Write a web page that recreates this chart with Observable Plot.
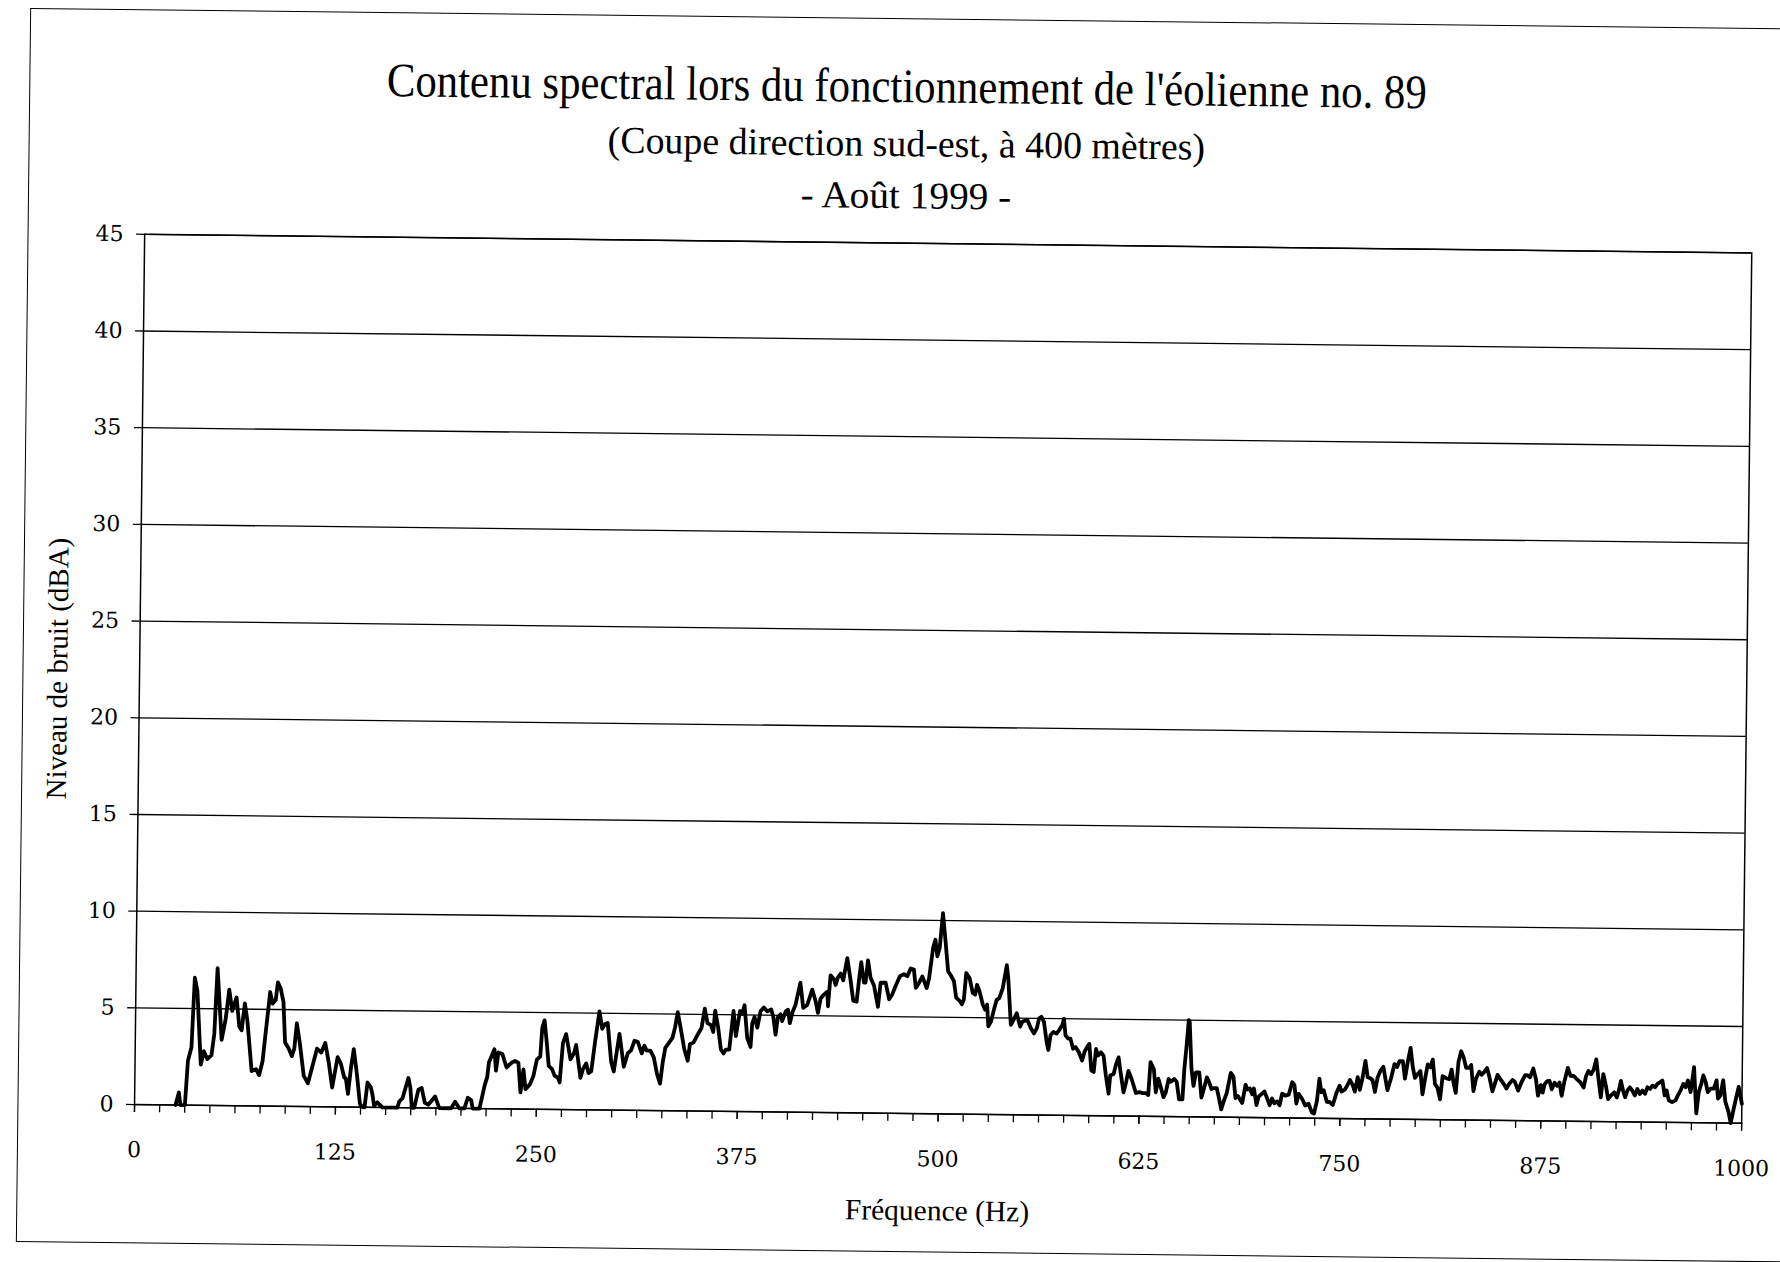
<!DOCTYPE html>
<html><head><meta charset="utf-8">
<script src="https://cdn.jsdelivr.net/npm/d3@7"></script>
<script src="https://cdn.jsdelivr.net/npm/@observablehq/plot@0.6"></script>
<style>
html,body{margin:0;padding:0;background:#fff;}
body{width:1780px;height:1262px;overflow:hidden;}
#page{position:relative;width:1780px;height:1262px;transform:rotate(0.665deg);transform-origin:890px 631px;font-family:"Liberation Serif",serif;color:#000;}
#border{position:absolute;left:23px;top:18px;width:1800px;height:1234px;border:1.5px solid #000;box-sizing:border-box;}
.hd{position:absolute;left:11px;width:1780px;text-align:center;line-height:1;white-space:nowrap;}
.hd span{display:inline-block;transform-origin:50% 50%;}
#chart{position:absolute;left:0;top:215px;}
</style></head>
<body>
<div id="page">
  <div id="border"></div>
  <div class="hd" id="t1" style="top:62px;font-size:48px"><span>Contenu spectral lors du fonctionnement de l'éolienne no. 89</span></div>
  <div class="hd" id="t2" style="top:124px;font-size:38px"><span>(Coupe direction sud-est, à 400 mètres)</span></div>
  <div class="hd" id="t3" style="top:176px;font-size:38px"><span>- Août 1999 -</span></div>
  <div id="chart"></div>
</div>
<script>
// ---- data (frequency in Hz, level in dBA) ----
const freqHz = [
  25.5,27.5,28.5,31.3,32.9,35.0,36.6,38.3,40.9,42.7,44.9,47.5,49.1,50.7,53.7,56.1,58.1,60.1,62.7,64.6,66.1,67.9,69.6,72.6,75.3,77.3,79.3,81.3,83.6,85.2,87.1,88.3,90.1,91.9,93.2,95.4,97.5,99.0,100.4,102.5,105.0,107.7,110.1,113.1,115.8,118.2,120.5,122.8,
  126.0,128.1,130.2,131.3,132.7,134.4,136.0,138.1,140.2,141.7,143.1,144.8,146.9,147.9,149.0,151.0,153.1,154.2,163.5,164.6,166.7,170.2,171.5,172.5,174.0,176.5,178.5,180.6,182.7,184.4,186.9,189.6,196.9,199.4,202.1,205.2,207.3,209.4,210.4,214.6,217.7,219.2,220.2,221.9,223.5,224.6,226.0,228.5,231.2,234.4,236.4,238.5,240.0,241.7,243.1,245.8,247.9,250.0,252.1,253.1,
  254.5,255.7,257.4,259.4,261.1,263.2,264.3,266.1,268.0,270.9,273.0,274.3,277.2,278.7,280.7,282.2,283.9,286.1,288.6,290.4,292.2,293.8,296.2,297.9,301.2,304.1,306.5,308.5,310.6,312.6,315.2,316.8,318.2,320.5,322.7,324.8,326.8,328.3,329.8,331.9,334.3,335.7,337.3,339.4,341.6,343.8,345.1,347.4,349.8,352.2,354.1,355.9,358.1,359.5,360.6,362.6,364.4,366.1,367.5,369.6,370.5,372.0,373.6,
  376.0,377.4,378.8,380.7,382.8,383.7,385.1,386.9,388.8,390.8,393.0,395.4,396.7,398.3,399.6,401.3,402.3,404.4,405.8,407.1,408.6,410.5,413.4,415.3,417.8,420.8,423.0,424.5,426.1,428.1,430.2,430.7,432.1,434.2,435.3,436.7,438.4,440.0,442.4,444.6,446.4,448.5,449.8,451.1,452.9,453.9,455.3,457.0,459.2,461.8,463.3,466.4,468.7,470.6,472.7,475.3,477.8,479.9,481.9,483.9,485.2,487.1,489.2,492.0,493.4,
  495.7,497.1,498.4,499.8,501.6,503.2,505.2,507.2,508.9,510.4,512.6,514.0,515.2,516.5,518.6,520.7,522.2,523.3,524.9,527.0,528.5,529.7,530.6,532.3,534.2,535.6,537.2,539.3,541.7,542.7,544.6,546.3,548.2,550.4,551.8,554.9,557.1,559.1,560.8,562.1,563.6,565.2,567.0,568.1,569.4,571.1,573.1,574.6,576.6,577.6,578.7,580.4,581.8,583.5,585.0,587.1,589.2,590.6,592.2,593.6,595.0,596.5,597.8,599.0,600.9,602.5,604.1,605.9,606.8,608.9,610.4,611.9,613.4,615.2,616.7,618.1,620.2,
  622.9,625.0,627.1,629.1,630.6,631.8,633.9,635.3,636.8,638.4,640.1,641.5,643.2,644.6,646.7,648.2,649.8,651.9,652.9,654.1,655.3,655.9,657.3,658.7,660.1,662.2,663.7,665.3,667.0,668.4,669.9,671.5,673.2,674.6,676.1,677.7,679.4,681.8,683.5,684.9,686.4,689.1,691.1,692.2,693.8,695.3,696.3,698.0,699.4,701.5,702.9,704.6,706.2,707.7,709.1,710.8,712.4,713.9,715.9,718.0,720.1,721.5,722.8,724.2,726.3,728.4,730.4,732.5,733.9,735.6,737.0,738.3,739.7,741.8,743.4,745.5,747.6,749.6,
  750.8,752.9,754.6,756.0,757.7,759.1,760.8,762.2,763.9,765.5,767.0,768.7,770.1,771.6,773.2,774.9,776.7,778.0,779.4,781.5,783.6,785.2,786.7,788.8,790.2,791.9,793.5,795.0,796.4,798.1,799.8,801.2,802.7,804.3,806.0,807.4,808.9,810.5,812.2,813.6,815.7,817.8,819.2,820.5,821.9,823.4,825.0,826.7,828.2,830.2,831.3,832.9,834.4,836.4,837.9,839.6,841.2,842.7,844.7,846.2,847.8,849.9,852.0,853.4,855.1,857.2,858.6,860.7,862.8,865.0,866.5,868.0,870.0,871.7,873.1,874.8,
  876.0,877.1,878.7,880.2,881.6,883.3,884.9,886.4,887.8,889.5,891.5,893.2,895.2,897.3,899.4,901.4,902.9,904.3,906.0,907.6,909.1,910.5,912.2,913.6,915.3,916.7,918.4,920.5,922.1,923.6,924.6,926.0,927.3,928.7,930.2,931.8,933.3,934.9,936.4,938.0,939.7,941.1,942.8,944.2,945.9,947.3,949.0,950.4,951.9,953.1,954.5,956.6,958.7,960.1,961.8,963.4,964.9,966.3,968.0,970.0,971.7,973.1,974.6,975.8,977.3,978.7,980.4,982.4,984.1,985.1,986.6,988.2,989.7,991.7,993.2,994.8,996.5,997.9,1000.0
];
const levelDb = [
  0,0.65,0,0,2.3,3.0,6.6,5.9,2.1,2.8,2.4,2.6,3.7,7.1,3.4,4.5,6.0,4.9,5.6,4.1,3.9,5.3,4.4,1.8,1.9,1.6,2.3,4.0,5.9,5.3,5.5,6.4,6.1,5.4,3.3,3.0,2.6,3.0,4.3,3.2,1.6,1.2,2.0,3.0,2.8,3.3,2.3,1.0,
  2.57,2.23,1.54,1.46,0.68,2.05,3.0,1.71,0.17,0,0,1.28,1.03,0.68,0.09,0.26,0.09,0,0,0.3,0.5,1.54,1.03,0,0,0.94,1.03,0.26,0.17,0.34,0.6,0,0,0.34,0,0,0.55,0.43,0,0,1.2,1.63,2.4,2.74,3.08,1.97,2.91,2.83,2.14,2.4,2.48,2.4,0.86,2.05,1.03,1.28,1.71,2.57,2.74,4.2,
  4.6,3.7,2.25,2.1,1.75,1.65,1.4,3.45,3.9,2.6,2.9,3.35,1.65,2.1,2.4,1.9,2.0,3.55,5.1,4.2,4.45,4.5,2.5,2.0,3.95,2.25,2.95,3.1,3.6,3.55,2.95,3.35,3.1,3.1,2.75,1.9,1.4,2.5,3.25,3.5,3.8,4.3,5.1,4.2,3.2,2.6,3.45,3.55,3.95,4.3,5.3,4.55,4.45,4.1,5.2,4.3,3.2,3.0,3.2,3.2,3.95,5.2,3.9,
  5.2,5.05,5.5,3.8,3.35,4.55,4.9,4.35,5.2,5.4,5.2,5.3,4.95,4.0,4.9,5.05,4.7,5.2,5.3,4.6,5.15,5.55,6.7,5.4,5.55,6.35,5.75,5.15,5.9,6.1,6.25,5.5,7.1,6.9,6.6,7.0,7.2,6.85,8.0,6.85,5.8,5.75,6.85,7.8,6.75,6.75,7.9,7.0,6.6,5.5,6.75,6.75,5.9,6.15,6.6,7.1,7.2,7.1,7.5,7.45,6.5,6.75,7.1,6.5,7.0,
  8.58,9.0,8.15,8.58,10.38,9.09,7.38,7.13,6.87,6.02,5.85,5.68,5.93,7.30,7.04,6.27,6.19,6.70,6.36,5.68,5.42,5.68,4.56,4.82,5.50,5.93,6.02,6.53,7.73,7.04,4.65,4.91,5.25,4.56,4.82,4.91,4.48,4.22,4.48,4.99,5.08,4.82,3.79,3.37,4.14,4.31,4.22,4.39,4.65,4.99,4.14,3.97,3.97,3.45,3.54,3.28,2.85,3.28,3.54,3.71,2.34,2.26,3.45,3.11,3.28,3.11,2.09,1.15,2.09,2.17,2.68,3.03,2.17,1.23,1.74,2.34,1.91,
  1.2,1.25,1.2,1.2,1.1,2.8,2.45,1.25,1.95,1.5,1.0,1.25,1.95,1.8,1.95,1.8,0.9,0.9,2.5,3.65,5.0,4.9,2.5,1.6,2.3,2.3,1.0,1.5,2.05,1.8,1.45,1.5,1.5,1.0,0.4,0.85,1.25,2.3,2.1,1.0,1.1,0.75,1.7,1.45,1.5,1.2,1.5,0.65,1.1,1.25,1.35,1.0,0.65,1.0,0.75,0.85,0.65,1.25,1.15,1.2,1.85,1.7,0.75,1.25,1.0,0.65,0.75,0.3,0.25,0.9,2.05,1.35,1.45,0.85,0.85,0.7,1.3,1.7,
  1.4,1.5,1.75,2.0,1.75,1.4,2.15,1.5,2.15,3.0,2.15,2.1,2.0,1.4,2.15,2.5,2.7,2.1,1.5,2.1,2.85,2.7,3.0,3.0,2.1,3.0,3.7,2.7,2.15,2.35,2.5,1.3,2.1,2.85,2.7,3.1,1.85,1.65,1.05,2.25,2.15,2.1,2.6,1.9,1.4,3.0,3.55,3.2,2.7,2.7,2.85,1.5,2.15,2.5,2.35,2.5,2.7,2.25,1.5,1.9,2.35,2.1,1.85,1.65,1.9,2.1,2.0,1.55,2.0,2.35,2.35,2.25,2.7,2.15,1.3,1.85,
  1.46,1.89,2.06,2.07,1.64,1.98,1.82,1.99,1.31,2.08,2.76,2.34,2.34,2.17,2.01,1.75,2.35,2.61,2.44,2.70,3.21,2.28,1.25,2.45,1.85,1.17,1.35,1.52,1.26,1.69,2.12,1.61,1.27,1.62,1.79,1.62,1.37,1.71,1.45,1.63,1.46,1.80,1.72,1.89,1.81,1.98,2.07,2.16,1.39,1.65,1.14,1.05,1.14,1.40,1.66,2.0,1.83,2.18,1.58,2.87,0.48,1.59,2.02,2.45,2.11,1.59,1.77,1.77,2.2,1.26,1.43,2.21,1.10,0.59,0,0.68,1.36,1.88,1.0
];
const yTicks = [0, 5, 10, 15, 20, 25, 30, 35, 40, 45];
const xTickLabels = [0, 125, 250, 375, 500, 625, 750, 875, 1000];
const xMinorStep = 15.625;

const spectrum = freqHz.map((f, i) => ({freq: f, level: levelDb[i]}));
const minorTicks = d3.range(0, 1000 + 1e-9, xMinorStep);

const chart = Plot.plot({
  width: 1780,
  height: 1047,
  marginTop: 27.5,
  marginBottom: 149.2,
  marginLeft: 139.6,
  marginRight: 33.2,
  style: {background: "none", fontFamily: "Liberation Serif", color: "#000"},
  x: {domain: [0, 1000]},
  y: {domain: [0, 45]},
  marks: [
    Plot.gridY(yTicks, {stroke: "#000", strokeOpacity: 1, strokeWidth: 1.3}),
    Plot.frame({stroke: "#000", strokeWidth: 1.5}),
    Plot.axisY(yTicks, {tickSize: 8, tickPadding: 13, strokeWidth: 1.3, fontFamily: "DejaVu Serif", fontSize: 22, label: null}),
    Plot.axisY([], {label: "Niveau de bruit (dBA)", labelAnchor: "center", labelOffset: 93, labelArrow: "none", fontFamily: "Liberation Serif", fontSize: 29}),
    Plot.axisX(minorTicks, {tickSize: 8, strokeWidth: 1.3, tickFormat: () => "", label: null}),
    Plot.axisX(xTickLabels, {tickSize: 8, tickPadding: 29, strokeWidth: 1.3, fontFamily: "DejaVu Serif", fontSize: 22, tickFormat: d => String(d), label: null}),
    Plot.axisX([], {label: "Fréquence (Hz)", labelAnchor: "center", labelOffset: 106.5, labelArrow: "none", fontFamily: "Liberation Serif", fontSize: 29.5}),
    Plot.line(spectrum, {x: "freq", y: "level", stroke: "#000", strokeWidth: 3.8, strokeLinejoin: "round"})
  ]
});
document.getElementById("chart").appendChild(chart);

// condense the heading lines to the widths of the scanned typeface
for (const [id, target] of [["t1", 1040], ["t2", 597], ["t3", 211]]) {
  const s = document.querySelector("#" + id + " span");
  s.style.transform = "scaleX(" + (target / s.offsetWidth) + ")";
}
</script>
</body></html>
